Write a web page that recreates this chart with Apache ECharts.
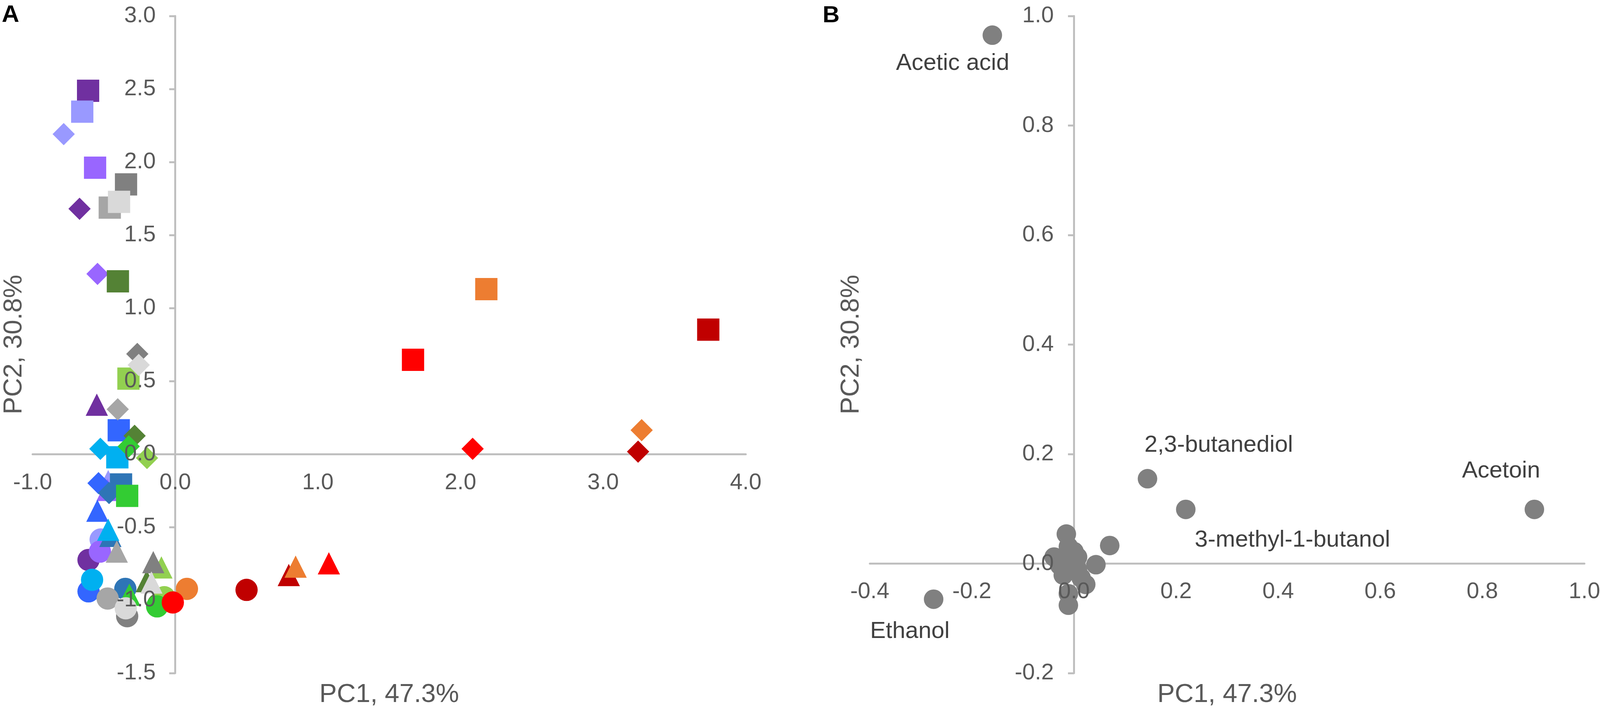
<!DOCTYPE html>
<html lang="en">
<head>
<meta charset="UTF-8">
<title>PCA scores and loadings</title>
<script src="https://cdn.jsdelivr.net/npm/echarts@6/dist/echarts.min.js"></script>
<style>
    html, body { margin: 0; padding: 0; background: #ffffff; overflow: hidden; }
    #main { width: 100vw; height: 1821px; }
</style>
</head>
<body>
<div id="main"></div>
<script>
    // ---- panel A : scores, one colour per group, four marker shapes per group ----
    // order: dark purple, periwinkle, medium purple, blue, steel blue, cyan,
    //        dark green, light green, green, dark grey, grey, light grey,
    //        dark red, orange, red
    var groupColors = ['#7030A0', '#9999FF', '#9966FF', '#3366FF', '#2E75B6', '#00B0F0',
                       '#548235', '#92D050', '#33CC33', '#808080', '#A6A6A6', '#D9D9D9',
                       '#C00000', '#ED7D31', '#FF0000'];
    var squarePts = [
        [-0.611, 2.488], [-0.652, 2.345], [-0.562, 1.961], [-0.396, 0.163], [-0.380, -0.208], [-0.406, -0.022],
        [-0.402, 1.183], [-0.328, 0.517], [-0.337, -0.286], [-0.345, 1.847], [-0.459, 1.688], [-0.394, 1.727],
        [3.737, 0.852], [2.181, 1.130], [1.667, 0.646]
    ];
    var diamondPts = [
        [-0.671, 1.680], [-0.782, 2.191], [-0.545, 1.234], [-0.538, -0.199], [-0.464, -0.267], [-0.525, 0.036],
        [-0.285, 0.125], [-0.198, -0.027], [-0.326, 0.053], [-0.266, 0.686], [-0.403, 0.307], [-0.256, 0.610],
        [3.245, 0.017], [3.270, 0.164], [2.085, 0.036]
    ];
    var trianglePts = [
        [-0.550, 0.338], [-0.470, -0.185], [-0.475, -0.245], [-0.546, -0.388], [-0.455, -0.560], [-0.470, -0.518],
        [-0.200, -0.870], [-0.097, -0.776], [-0.322, -0.963], [-0.154, -0.740], [-0.410, -0.668], [-0.167, -0.880],
        [0.796, -0.828], [0.844, -0.771], [1.077, -0.748]
    ];
    var circlePts = [
        [-0.608, -0.725], [-0.523, -0.585], [-0.528, -0.668], [-0.608, -0.940], [-0.350, -0.923], [-0.583, -0.861],
        [-0.120, -1.030], [-0.077, -0.980], [-0.127, -1.043], [-0.337, -1.110], [-0.474, -0.989], [-0.347, -1.056],
        [0.500, -0.930], [0.082, -0.923], [-0.017, -1.016]
    ];

    // ---- panel B : loadings ----
    var loadingNames = ['Acetic acid', 'Ethanol', '2,3-butanediol', '3-methyl-1-butanol', 'Acetoin'];
    var loadingNamed = [[-0.160, 0.965], [-0.275, -0.065], [0.144, 0.155], [0.219, 0.099], [0.902, 0.099]];
    var loadingOthers = [
        [-0.015, 0.054], [0.070, 0.033], [0.043, -0.002], [-0.039, 0.012], [-0.011, 0.031],
        [0.007, 0.012], [-0.021, -0.021], [0.023, -0.038], [-0.011, -0.055], [-0.011, -0.076],
        [0.007, -0.011], [-0.014, 0.000], [0.014, -0.026], [-0.028, -0.003], [0.000, 0.022]
    ];

    // axis ranges
    var axA = {xMin: -1, xMax: 4, xStep: 1, yMin: -1.5, yMax: 3, yStep: 0.5};
    var axB = {xMin: -0.4, xMax: 1.0, xStep: 0.2, yMin: -0.2, yMax: 1.0, yStep: 0.2};

    var font = "'Liberation Sans', Arial, sans-serif";
    var axisGrey = '#BFBFBF';
    var textGrey = '#595959';

    // the figure was laid out 4514 px wide; the window may be narrower,
    // so horizontal positions are scaled to whatever width we get
    var sx = (window.innerWidth || 4514) / 4514;
    if (sx > 1) sx = 1;

    // grid boxes (px, in the 4514-wide layout)
    var boxA = {left: 92, top: 41, width: 2012, height: 1683};
    var boxB = {left: 2454, top: 41, width: 2016, height: 1683};

    // label offsets (px) from each named point, as placed in the figure
    var labelOffset = {
        'Acetic acid': [-112, 72],
        'Ethanol': [-67, 83],
        '2,3-butanediol': [201, -86],
        '3-methyl-1-butanol': [301, 79],
        'Acetoin': [-94, -98]
    };

    function fmt(v) { return v.toFixed(1); }

    // axis that carries the line, ticks and name (drawn under the markers)
    function lineAxis(grid, min, max, step, pos, ticks, name, gap) {
        var vertical = pos === 'left';
        return {
            gridIndex: grid, type: 'value', min: min, max: max, interval: step, position: pos,
            axisLine: {show: true, onZero: true, lineStyle: {color: axisGrey, width: 5}},
            axisTick: {show: ticks, length: 17 * sx, lineStyle: {color: axisGrey, width: 5}},
            axisLabel: {show: false},
            splitLine: {show: false},
            name: name, nameLocation: 'middle', nameGap: vertical ? gap * sx : gap,
            nameRotate: vertical ? 90 : 0,
            nameTextStyle: {fontSize: 67, color: textGrey, fontFamily: font, verticalAlign: 'middle'},
            z: 0
        };
    }

    // axis that carries only the tick labels (drawn over the markers),
    // shifted from the grid edge to the zero line of the other axis
    function labelAxis(grid, min, max, step, pos, margin, shift) {
        return {
            gridIndex: grid, type: 'value', min: min, max: max, interval: step, position: pos,
            offset: -shift,
            axisLine: {show: false, onZero: false},
            axisTick: {show: false},
            axisLabel: {show: true, margin: pos === 'left' ? margin * sx : margin,
                        fontSize: 58, color: textGrey, fontFamily: font,
                        formatter: fmt, showMinLabel: true, showMaxLabel: true},
            splitLine: {show: false},
            z: 10
        };
    }

    // distance from the grid's bottom / left edge to the zero line
    function zeroFromBottom(ax, box) { return box.height * (0 - ax.yMin) / (ax.yMax - ax.yMin); }
    function zeroFromLeft(ax, box) { return box.width * sx * (0 - ax.xMin) / (ax.xMax - ax.xMin); }

    var series = [];
    for (var i = 0; i < groupColors.length; i++) {
        series.push({
            type: 'scatter', xAxisIndex: 0, yAxisIndex: 0,
            symbolSize: 57,
            itemStyle: {color: groupColors[i], opacity: 1},
            data: [
                {value: squarePts[i], symbol: 'rect'},
                {value: diamondPts[i], symbol: 'diamond'},
                {value: trianglePts[i], symbol: 'triangle'},
                {value: circlePts[i], symbol: 'circle'}
            ]
        });
    }

    var loadingData = loadingOthers.map(function (p) { return {value: p}; });
    loadingNamed.forEach(function (p, k) {
        var nm = loadingNames[k];
        var off = labelOffset[nm];
        loadingData.push({
            name: nm, value: p,
            label: {show: true, position: 'inside', offset: [off[0] * sx, off[1]], formatter: nm,
                    fontSize: 60, color: '#404040', fontFamily: font}
        });
    });
    series.push({
        type: 'scatter', xAxisIndex: 2, yAxisIndex: 2,
        symbol: 'circle', symbolSize: 50,
        itemStyle: {color: '#808080', opacity: 1},
        label: {show: false},
        data: loadingData
    });

    var myChart = echarts.init(document.getElementById('main'), null, {renderer: 'canvas'});
    var option = {
        animation: false,
        backgroundColor: '#ffffff',
        title: [
            {text: 'A', left: 5 * sx, top: 8, padding: 0,
             textStyle: {fontSize: 62, fontWeight: 'bold', color: '#000000', fontFamily: font}},
            {text: 'B', left: 2321 * sx, top: 10, padding: 0,
             textStyle: {fontSize: 60, fontWeight: 'bold', color: '#000000', fontFamily: font}}
        ],
        grid: [
            {left: boxA.left * sx, top: boxA.top, width: boxA.width * sx, height: boxA.height,
             containLabel: false, outerBoundsMode: 'none'},
            {left: boxB.left * sx, top: boxB.top, width: boxB.width * sx, height: boxB.height,
             containLabel: false, outerBoundsMode: 'none'}
        ],
        xAxis: [
            lineAxis(0, axA.xMin, axA.xMax, axA.xStep, 'bottom', false, 'PC1, 47.3%', 56),
            labelAxis(0, axA.xMin, axA.xMax, axA.xStep, 'bottom', 45, zeroFromBottom(axA, boxA)),
            lineAxis(1, axB.xMin, axB.xMax, axB.xStep, 'bottom', false, 'PC1, 47.3%', 56),
            labelAxis(1, axB.xMin, axB.xMax, axB.xStep, 'bottom', 43, zeroFromBottom(axB, boxB))
        ],
        yAxis: [
            lineAxis(0, axA.yMin, axA.yMax, axA.yStep, 'left', true, 'PC2, 30.8%', 52),
            labelAxis(0, axA.yMin, axA.yMax, axA.yStep, 'left', 55, zeroFromLeft(axA, boxA)),
            lineAxis(1, axB.yMin, axB.yMax, axB.yStep, 'left', true, 'PC2, 30.8%', 52),
            labelAxis(1, axB.yMin, axB.yMax, axB.yStep, 'left', 57, zeroFromLeft(axB, boxB))
        ],
        series: series
    };
    myChart.setOption(option);
</script>
</body>
</html>
